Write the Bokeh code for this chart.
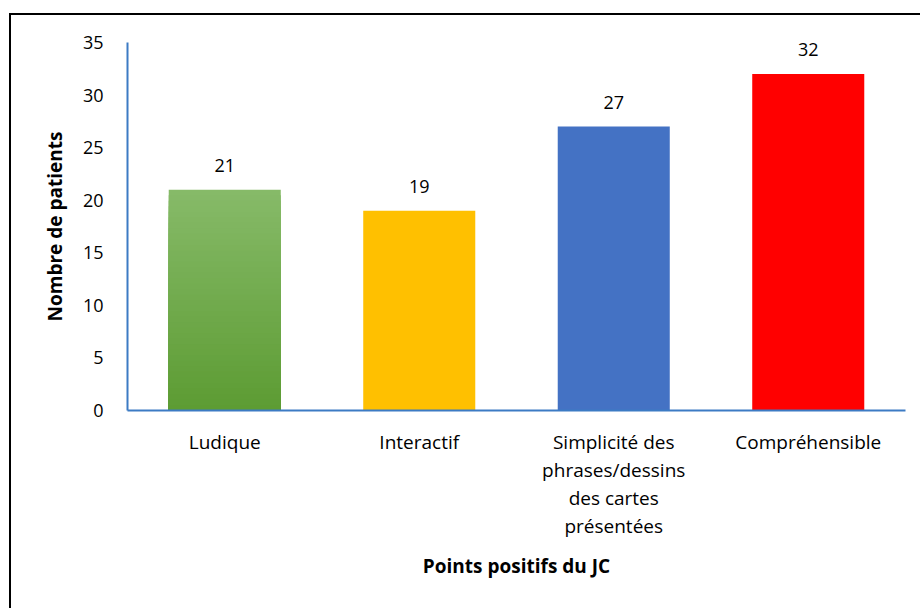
from bokeh.plotting import figure
from bokeh.models import (ColumnDataSource, FactorRange, Range1d, LabelSet,
                          FixedTicker, InlineStyleSheet)
from bokeh.core.properties import value
from bokeh.embed import file_html
from bokeh.resources import INLINE

# ---- data ----
categories = ["Ludique", "Interactif",
              "Simplicité des\nphrases/dessins\ndes cartes\nprésentées",
              "Compréhensible"]
values = [21, 19, 27, 32]
bar_colors = ["#70AD47", "#FFC000", "#4472C4", "#FF0000"]
y_ticks = [0, 5, 10, 15, 20, 25, 30, 35]
x_title = "Points positifs du JC"
y_title = "Nombre de patients"

FONT = "Open Sans"
AXIS_COLOR = "#3C7BC4"

p = figure(width=920, height=608, x_range=FactorRange(*categories, range_padding=0),
           y_range=Range1d(0, 35), output_backend="svg", toolbar_location=None,
           min_border_left=127, min_border_right=15, min_border_top=42,
           min_border_bottom=198)
p.x_range.factor_padding = 0
p.outline_line_color = None
p.grid.grid_line_color = None
p.background_fill_color = "white"
p.border_fill_color = "white"

BAR_W = 0.576
# green bar drawn with a vertical gradient (overlapping layers, light at top)
top_rgb = (0x86, 0xBA, 0x68)
bot_rgb = (0x5C, 0x9B, 0x32)
n_layers = 40
for k in range(n_layers, 0, -1):
    f = k / n_layers
    col = tuple(int(round(bot_rgb[i] + (top_rgb[i] - bot_rgb[i]) * f)) for i in range(3))
    p.vbar(x=[categories[0]], top=[values[0] * f], width=BAR_W,
           fill_color="#%02x%02x%02x" % col, line_color=None)

src = ColumnDataSource(dict(cat=categories[1:], val=values[1:], col=bar_colors[1:]))
p.vbar(x="cat", top="val", width=BAR_W, fill_color="col", line_color=None, source=src)

lab_src = ColumnDataSource(dict(cat=categories, val=values, txt=[str(v) for v in values]))
labels = LabelSet(x="cat", y="val", text="txt", source=lab_src, text_align="center",
                  text_baseline="alphabetic", y_offset=18, text_font=value(FONT),
                  text_font_size="18px", text_color="#000000")
p.add_layout(labels)

# axes
p.yaxis.ticker = FixedTicker(ticks=y_ticks)
for ax in (p.xaxis[0], p.yaxis[0]):
    ax.axis_line_color = AXIS_COLOR
    ax.axis_line_width = 2
    ax.major_tick_line_color = None
    ax.minor_tick_line_color = None
    ax.major_tick_in = 0
    ax.major_tick_out = 0
    ax.minor_tick_out = 0
    ax.major_label_text_font = FONT
    ax.major_label_text_color = "#000000"
    ax.axis_label_text_font = FONT
    ax.axis_label_text_font_style = "bold"
    ax.axis_label_text_font_size = "19px"
    ax.axis_label_text_color = "#000000"

p.yaxis.major_label_text_font_size = "18px"
p.xaxis.major_label_text_font_size = "19px"
p.xaxis.axis_label = x_title
p.yaxis.axis_label = y_title
p.yaxis.major_label_standoff = 24
p.yaxis.axis_label_standoff = 12
p.xaxis.major_label_standoff = 18
p.xaxis.major_label_text_line_height = 1.08
p.xaxis.axis_label_standoff = 11
p.xaxis.major_label_orientation = "horizontal"

# outer chart border (only its left and top edges fall inside the window)
p.stylesheets = [InlineStyleSheet(css="""
:host { position: relative; }
:host::after {
  content: ""; position: absolute; left: 9px; top: 13px; right: 0; bottom: 0;
  border-left: 2px solid #000; border-top: 2px solid #000;
  pointer-events: none; z-index: 100;
}
""")]

open("out.html", "w").write(file_html(p, INLINE))
